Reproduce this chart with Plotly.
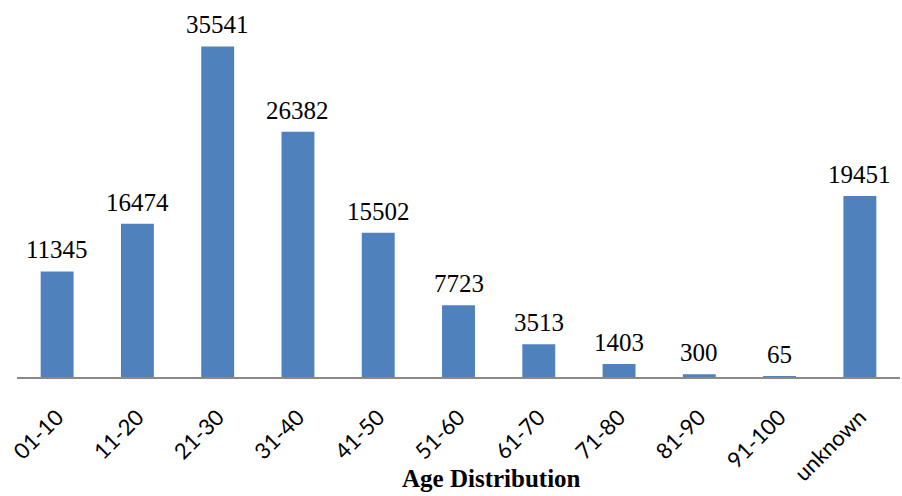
import plotly.graph_objects as go

# Age groups and record counts
age_groups = ["01-10", "11-20", "21-30", "31-40", "41-50", "51-60",
              "61-70", "71-80", "81-90", "91-100", "unknown"]
counts = [11345, 16474, 35541, 26382, 15502, 7723, 3513, 1403, 300, 65, 19451]

fig = go.Figure()
fig.add_trace(go.Bar(
    x=age_groups,
    y=counts,
    marker=dict(color="#4F81BD", line=dict(width=0)),
    hoverinfo="x+y",
))

# value labels above each bar
for g, c in zip(age_groups, counts):
    fig.add_annotation(
        x=g, y=c, text=str(c), showarrow=False,
        xanchor="center", yanchor="bottom", yshift=6,
        font=dict(family="Liberation Serif", size=25, color="#000000"),
    )

# axis title
fig.add_annotation(
    text="<b>Age Distribution</b>", xref="paper", yref="paper",
    x=0.537, y=-0.272, xanchor="center", yanchor="middle", showarrow=False,
    font=dict(family="Liberation Serif", size=25, color="#000000"),
)

fig.update_layout(
    width=902, height=496,
    margin=dict(l=17, r=2, t=5, b=119),
    paper_bgcolor="white", plot_bgcolor="white",
    bargap=0.59,
    showlegend=False,
    xaxis=dict(
        type="category",
        showline=True, linecolor="#898989", linewidth=1.5,
        ticks="", tickangle=-45, ticklabelstandoff=17,
        tickfont=dict(family="Lato", size=22, color="#000000"),
        showgrid=False,
    ),
    yaxis=dict(
        range=[0, 40000], visible=False, showgrid=False, zeroline=False,
    ),
)

fig.write_html("out.html")
